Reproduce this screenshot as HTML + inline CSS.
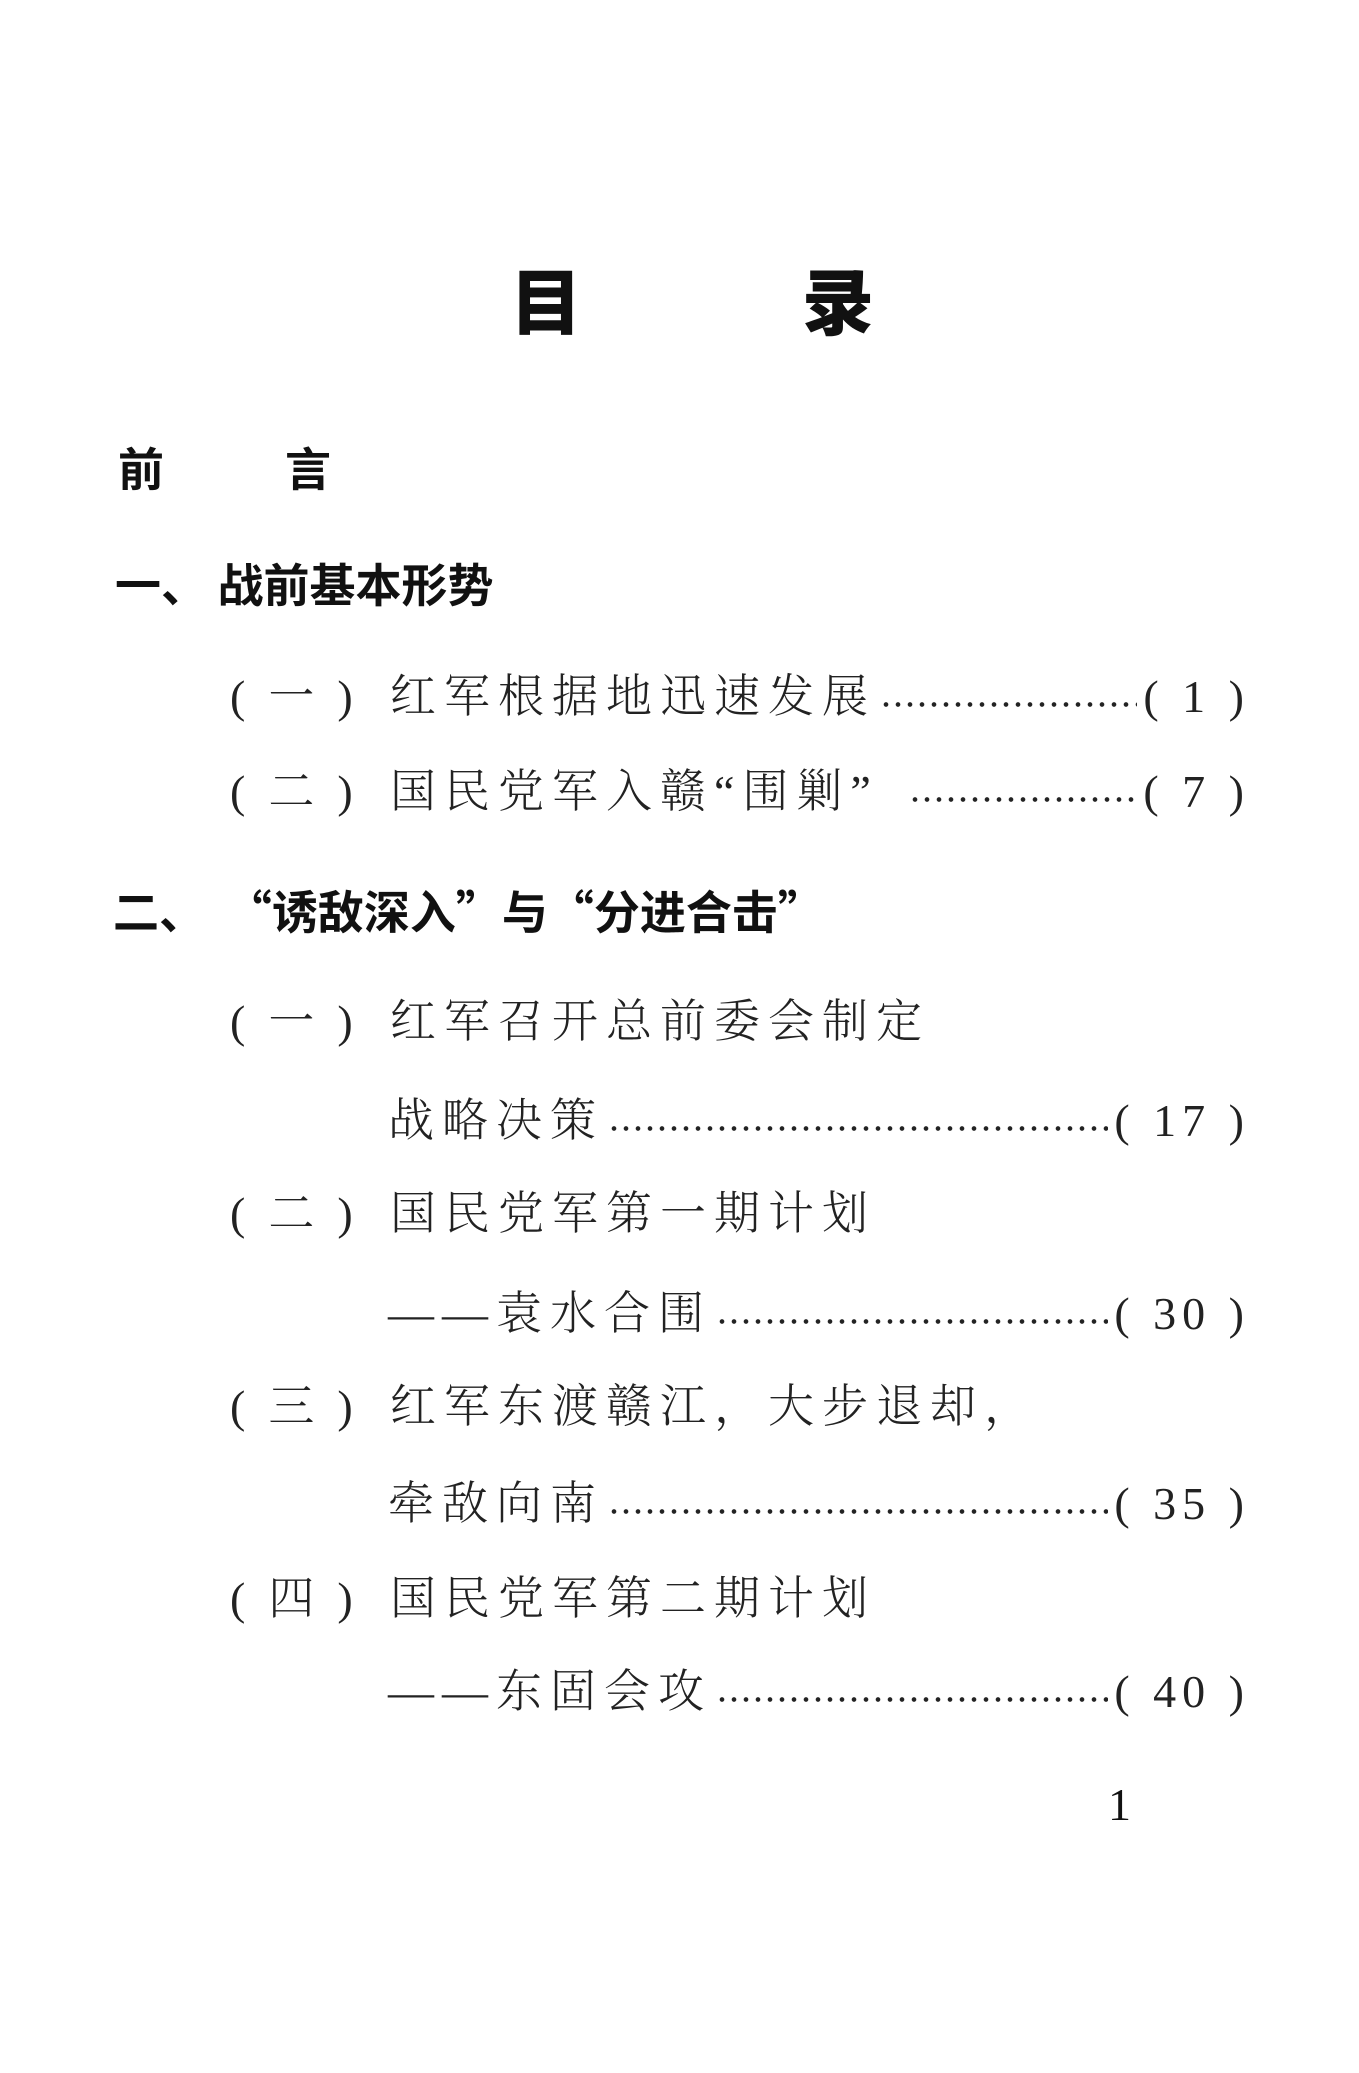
<!DOCTYPE html>
<html><head><meta charset="utf-8">
<style>
html,body{margin:0;padding:0;background:#fff;}
body{width:1359px;height:2073px;position:relative;overflow:hidden;font-family:"Liberation Serif","Noto Serif CJK SC","Noto Sans CJK SC",serif;color:#111;}
.a{position:absolute;white-space:nowrap;}
.t{font-family:"Noto Sans CJK SC","WenQuanYi Zen Hei",sans-serif;font-weight:900;font-size:72px;line-height:72px;}
.h{font-family:"Noto Sans CJK SC","WenQuanYi Zen Hei",sans-serif;font-weight:700;font-size:46px;line-height:50px;}
.r{display:flex;align-items:center;font-size:46px;line-height:56px;font-family:"Liberation Serif","Noto Serif CJK SC",serif;font-weight:300;color:#222;}
.r .p{display:inline-block;width:160px;letter-spacing:0;}
.r .x{letter-spacing:8px;}
.r .d{flex:1;height:7px;margin:14px 6px 0 4px;background:radial-gradient(circle,#222 2px,transparent 2.6px) 0 0/12px 7px repeat-x;}
.r .n{font-family:"Liberation Serif",serif;letter-spacing:6px;}
</style></head><body>
<div class="a t" style="left:510px;top:262px;">目</div>
<div class="a t" style="left:802px;top:262px;">录</div>

<div class="a h" style="left:118px;top:442px;">前</div>
<div class="a h" style="left:285px;top:442px;">言</div>

<div class="a h" style="left:115px;top:558px;">一、 战前基本形势</div>

<div class="a r" style="left:230px;top:669px;width:1020px;"><span class="p">(&nbsp; 一 &nbsp;)</span><span class="x">红军根据地迅速发展</span><span class="d"></span><span class="n">( 1 )</span></div>
<div class="a r" style="left:230px;top:764px;width:1020px;"><span class="p">(&nbsp; 二 &nbsp;)</span><span class="x">国民党军入赣“围剿”</span><span class="d" style="margin-left:30px"></span><span class="n">( 7 )</span></div>

<div class="a h" style="left:113px;top:885px;">二、&nbsp;&nbsp;“诱敌深入”与“分进合击”</div>

<div class="a r" style="left:230px;top:994px;"><span class="p">(&nbsp; 一 &nbsp;)</span><span class="x">红军召开总前委会制定</span></div>
<div class="a r" style="left:388px;top:1093px;width:862px;"><span class="x">战略决策</span><span class="d"></span><span class="n">( 17 )</span></div>

<div class="a r" style="left:230px;top:1186px;"><span class="p">(&nbsp; 二 &nbsp;)</span><span class="x">国民党军第一期计划</span></div>
<div class="a r" style="left:388px;top:1286px;width:862px;"><span class="x">——袁水合围</span><span class="d"></span><span class="n">( 30 )</span></div>

<div class="a r" style="left:230px;top:1379px;"><span class="p">(&nbsp; 三 &nbsp;)</span><span class="x">红军东渡赣江，大步退却，</span></div>
<div class="a r" style="left:388px;top:1476px;width:862px;"><span class="x">牵敌向南</span><span class="d"></span><span class="n">( 35 )</span></div>

<div class="a r" style="left:230px;top:1571px;"><span class="p">(&nbsp; 四 &nbsp;)</span><span class="x">国民党军第二期计划</span></div>
<div class="a r" style="left:388px;top:1664px;width:862px;"><span class="x">——东固会攻</span><span class="d"></span><span class="n">( 40 )</span></div>

<div class="a" style="left:1108px;top:1782px;font-size:46px;line-height:46px;font-family:'Liberation Serif',serif;">1</div>
</body></html>
